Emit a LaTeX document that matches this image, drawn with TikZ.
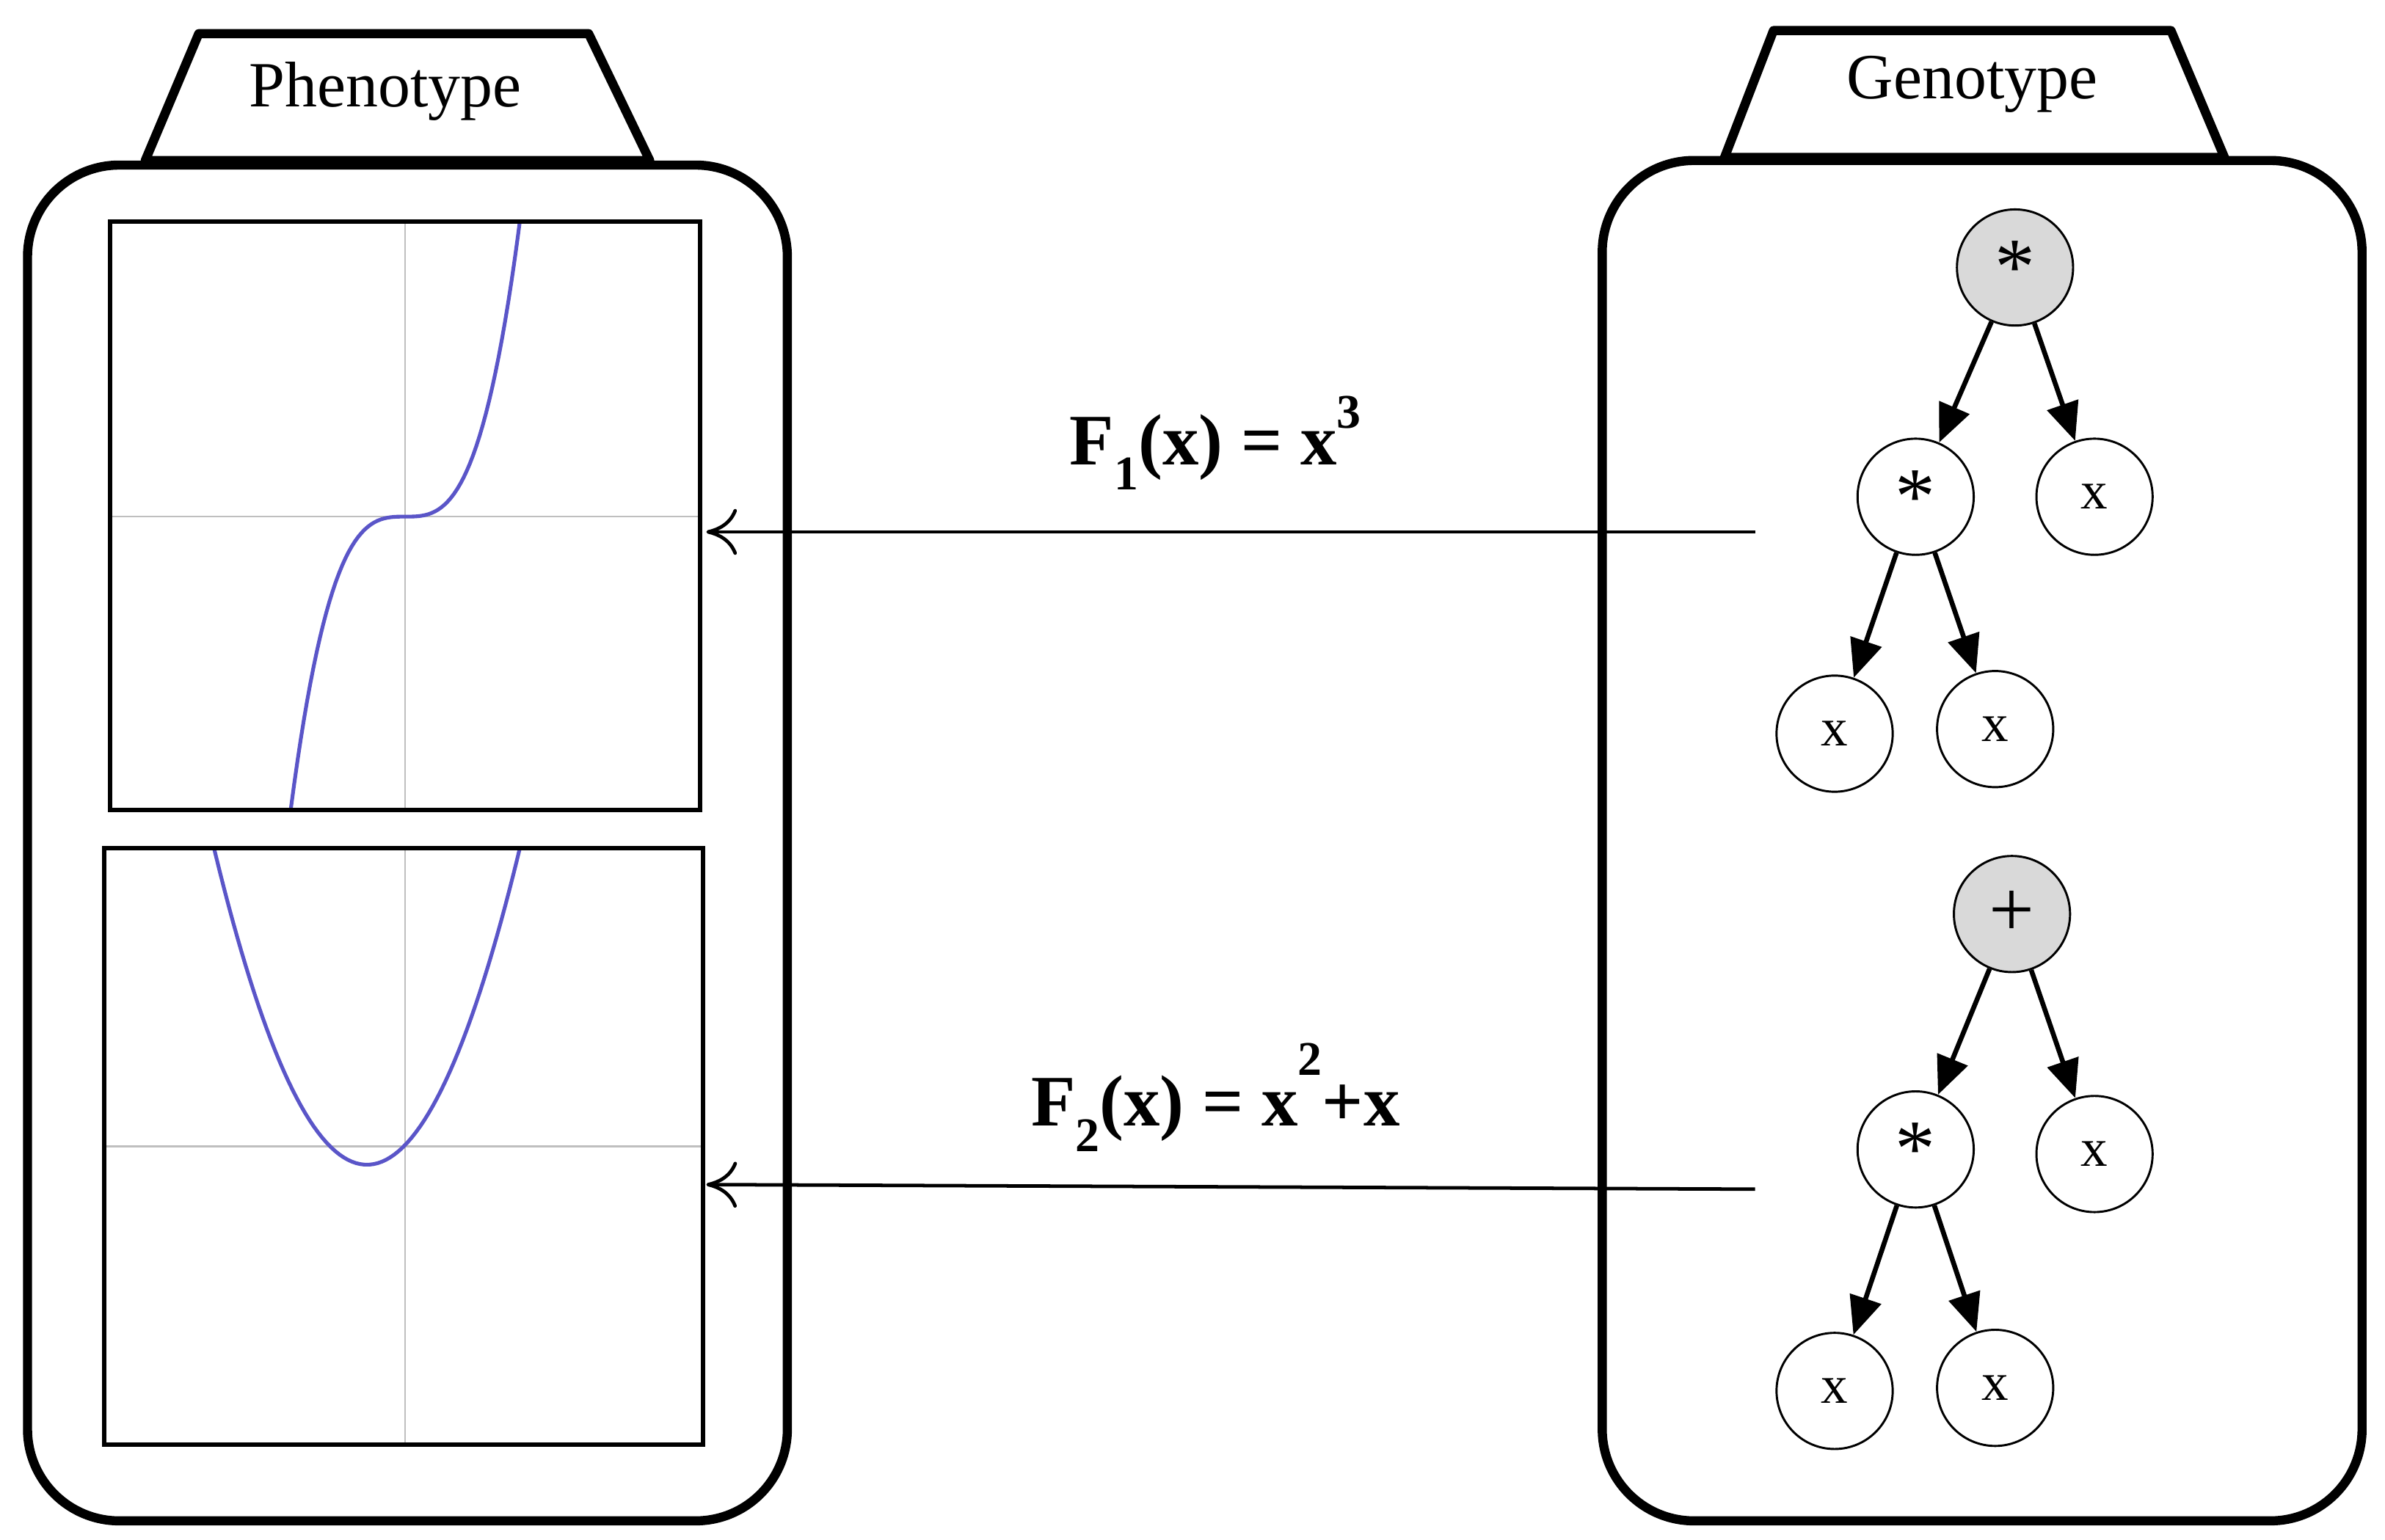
\documentclass[tikz,border=0pt]{standalone}
\usepackage{fontspec}
\setmainfont{Liberation Serif}
\usetikzlibrary{arrows.meta}
\definecolor{crvc}{RGB}{90,85,200}
\begin{document}
\begin{tikzpicture}[x=0.02cm,y=-0.02cm,
  box/.style={line width=3.4pt,rounded corners=1.2cm},
  tab/.style={line width=3.4pt,fill=white,line join=round},
  tabtxt/.style={font=\fontsize{24}{28}\selectfont},
  tn/.style={circle,draw,line width=0.8pt,minimum size=1.52cm,inner sep=0pt,font=\fontsize{20}{22}\selectfont},
  rt/.style={tn,fill=gray!30},
  st/.style={font=\fontsize{30}{30}\selectfont},
  te/.style={line width=1.8pt,-{Triangle[length=0.5cm,width=0.42cm]}},
  map/.style={line width=1.3pt,-{To[length=0.4cm,width=0.6cm]}},
  lbl/.style={font=\bfseries\fontsize{27}{32}\selectfont},
  ax/.style={gray!50,line width=0.6pt},
  crv/.style={crvc,line width=1.4pt}]
\useasboundingbox (0,0) rectangle (1560,1007.5);
% left box
\draw[box] (18,108) rectangle (515,995);
\draw[tab] (95,105) -- (130,22) -- (385,22) -- (425,105) -- cycle;
\node[tabtxt] (pt) at (252,60) {Phenotype};
% right box
\draw[box] (1048,105) rectangle (1545,995);
\draw[tab] (1128,103) -- (1160,20) -- (1420,20) -- (1455,103) -- cycle;
\node[tabtxt] (gt) at (1290,55) {Genotype};
% plot 1
\draw[ax] (265,145) -- (265,530) (72,338) -- (458,338);
\begin{scope}\clip (72,145) rectangle (458,530);
\draw[crv] plot[domain=180:345,samples=80] (\x,{338-457.5*((\x-265)/100)^3});
\end{scope}
\draw[line width=1.6pt] (72,145) rectangle (458,530);
% plot 2
\draw[ax] (265,555) -- (265,945) (68,750) -- (460,750);
\begin{scope}\clip (68,555) rectangle (460,945);
\draw[crv] plot[domain=130:350,samples=80] (\x,{762-207*((\x-240)/100)^2});
\end{scope}
\draw[line width=1.6pt] (68,555) rectangle (460,945);
% mapping arrows
\coordinate (s1) at (1148,348); \coordinate (e1) at (462,348);
\coordinate (s2) at (1148,778); \coordinate (e2) at (462,775);
\draw[map] (s1) -- (e1);
\draw[map] (s2) -- (e2);
\node[lbl] (l1) at (795,290) {F\raisebox{-0.35em}{\fontsize{18}{20}\selectfont 1}(x) = x\raisebox{0.5em}{\fontsize{18}{20}\selectfont 3}};
\node[lbl] (l2) at (795,718) {F\raisebox{-0.35em}{\fontsize{18}{20}\selectfont 2}(x) = x\raisebox{0.7em}{\fontsize{18}{20}\selectfont 2}+x};
% tree 1
\node[rt,st] (a) at (1318,175) {*};
\node[tn,st] (b) at (1253,325) {*};
\node[tn] (c) at (1370,325) {x};
\node[tn] (d) at (1200,480) {x};
\node[tn] (e) at (1305,477) {x};
\draw[te] (a) -- (b); \draw[te] (a) -- (c);
\draw[te] (b) -- (d); \draw[te] (b) -- (e);
% tree 2
\node[rt,st] (f) at (1316,598) {+};
\node[tn,st] (g) at (1253,752) {*};
\node[tn] (h) at (1370,755) {x};
\node[tn] (i) at (1200,910) {x};
\node[tn] (j) at (1305,908) {x};
\draw[te] (f) -- (g); \draw[te] (f) -- (h);
\draw[te] (g) -- (i); \draw[te] (g) -- (j);
\end{tikzpicture}
\end{document}
